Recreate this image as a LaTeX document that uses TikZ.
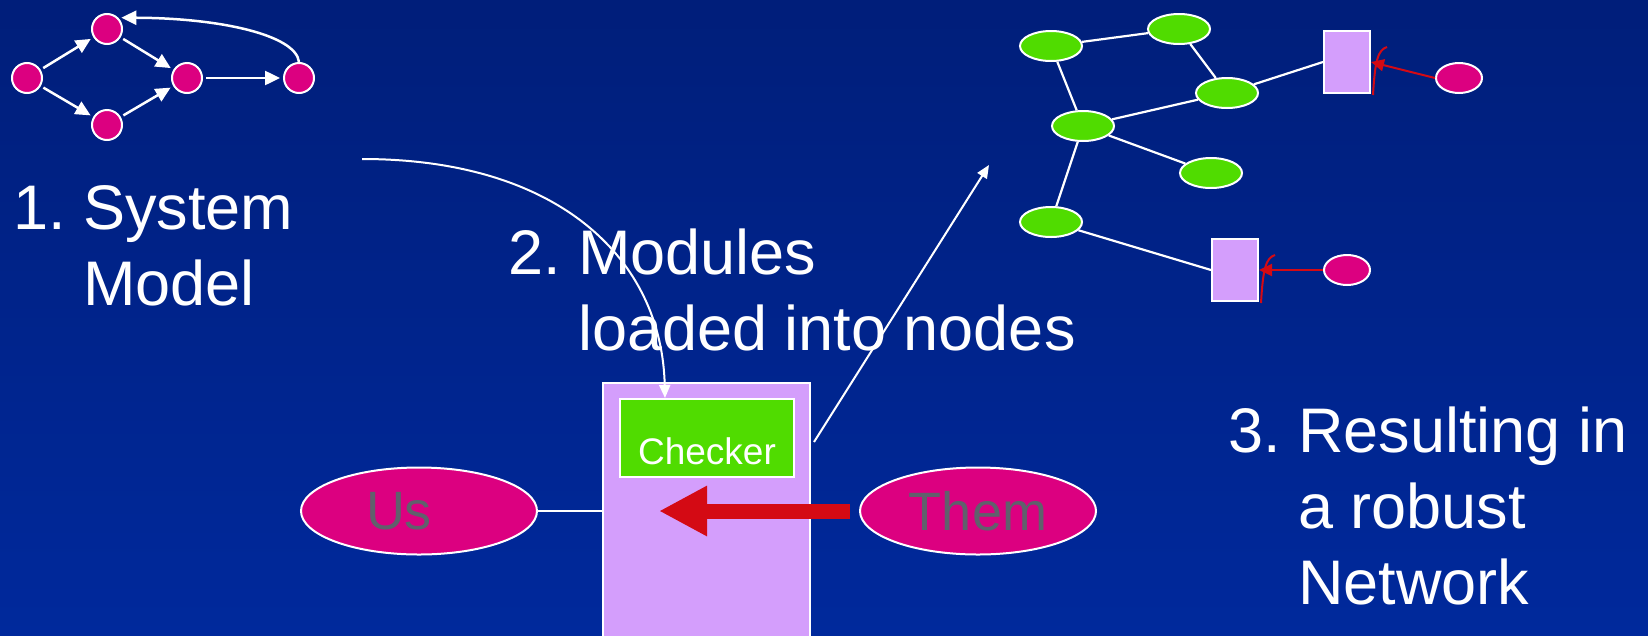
\documentclass[tikz,border=0pt]{standalone}
\usepackage{fontspec}
\setmainfont{Liberation Sans}
\usepackage{xcolor}
\usepackage{tikz}
\usetikzlibrary{shapes.geometric}
\usetikzlibrary{arrows.meta}
\definecolor{bgtop}{RGB}{0,30,122}
\definecolor{bgbot}{RGB}{0,41,156}
\definecolor{magentanode}{RGB}{220,0,128}
\definecolor{greennode}{RGB}{80,220,0}
\definecolor{lavender}{RGB}{212,158,252}
\definecolor{attackred}{RGB}{212,10,20}
\definecolor{labelgray}{RGB}{96,96,108}

\begin{document}
\begin{tikzpicture}[x=1pt,y=-1pt]
% Define styles
\tikzstyle{statenode} = [circle, draw=white, line width=2pt, fill=magentanode, minimum size=30pt, inner sep=0pt]
\tikzstyle{netnode} = [ellipse, draw=white, line width=2pt, fill=greennode, minimum width=62pt, minimum height=30pt, inner sep=0pt]
\tikzstyle{hostnode} = [rectangle, draw=white, line width=2pt, fill=lavender, minimum width=46pt, minimum height=62pt, inner sep=0pt]
\tikzstyle{intruder} = [ellipse, draw=white, line width=2pt, fill=magentanode, minimum width=46pt, minimum height=30pt, inner sep=0pt]
\tikzstyle{party} = [ellipse, draw=white, line width=2pt, fill=magentanode, minimum width=236pt, minimum height=87pt, inner sep=0pt, text=labelgray, font=\fontsize{54}{60}\selectfont]
\tikzstyle{bigtext} = [text=white, align=left, anchor=base west, inner sep=0pt, font=\fontsize{63}{76}\selectfont\frenchspacing]
\tikzstyle{flow} = [white, line width=2.5pt, shorten <=3pt, shorten >=3pt, -{Triangle[length=15pt,width=14pt]}]
\tikzstyle{load} = [white, line width=2pt, -{Triangle[length=13pt,width=11pt]}]
\tikzstyle{link} = [white, line width=2.2pt]
\tikzstyle{attack} = [attackred, line width=2pt, -{Triangle[length=13pt,width=12pt]}]
% Background
\fill[top color=bgtop, bottom color=bgbot] (0,0) rectangle (1648,635);
\useasboundingbox (0,0) rectangle (1648,635);
% Define nodes
\node[statenode] (s1) at (27,78) {};
\node[statenode] (s2) at (107,29) {};
\node[statenode] (s3) at (107,125) {};
\node[statenode] (s4) at (187,78) {};
\node[statenode] (s5) at (299,78) {};
\node[netnode] (g1) at (1051,46) {};
\node[netnode] (g2) at (1179,29) {};
\node[netnode] (g3) at (1227,93) {};
\node[netnode] (g4) at (1083,126) {};
\node[netnode] (g5) at (1211,173) {};
\node[netnode] (g6) at (1051,222) {};
\node[hostnode] (box1) at (1347,62) {};
\node[hostnode] (box2) at (1235,270) {};
\node[intruder] (m1) at (1459,78) {};
\node[intruder] (m2) at (1347,270) {};
\node[rectangle, draw=white, line width=2pt, fill=lavender, minimum width=207pt, minimum height=262pt] (modbox) at (706.5,514) {};
\node[rectangle, draw=white, line width=2pt, fill=greennode, minimum width=174pt, minimum height=78pt, inner sep=0pt, text=white, text height=52pt, text depth=0pt, font=\fontsize{37}{40}\selectfont] (checker) at (707,438) {Checker};
\node[party] (us) at (419,511) {Us\hspace*{40pt}};
\node[party] (them) at (978,511) {Them};
\node[bigtext] (sysmodel) at (13,305) {1. System\\\hphantom{1. }Model};
\node[bigtext] (modules) at (508,350) {2. Modules\\\hphantom{2. }loaded into nodes};
\node[bigtext] (result) at (1228,604) {3. Resulting in\\\hphantom{3. }a robust\\\hphantom{3. }Network};
\coordinate (sysout) at (362,159);
\coordinate (netin) at (989,165);
\coordinate (hit) at (659,511);
% Connect the nodes
\draw[flow] (s1) -- (s2);
\draw[flow] (s1) -- (s3);
\draw[flow] (s2) -- (s4);
\draw[flow] (s3) -- (s4);
\draw[flow] (s4) -- (s5);
\draw[flow, shorten <=0pt] (s5.north) .. controls (296,35) and (220,18) .. (s2.45);
\draw[link] (g1) -- (g2);
\draw[link] (g1) -- (g4);
\draw[link] (g2) -- (g3);
\draw[link] (g4) -- (g3);
\draw[link] (g4) -- (g5);
\draw[link] (g4) -- (g6);
\draw[link] (g3) -- (box1.west);
\draw[link] (g6) -- (box2.west);
\draw[attack] (m1.west) -- (box1.east);
\draw[attack] (m2.west) -- (box2.east);
\draw[attackred, line width=2pt] (1373,95) .. controls (1375,60) and (1378,50) .. (1387,47);
\draw[attackred, line width=2pt] (1261,303) .. controls (1263,268) and (1266,258) .. (1275,255);
\draw[link] (us.east) -- (us.east -| modbox.west);
\draw[attackred, line width=15pt, shorten <=9pt, -{Triangle[length=48pt,width=47pt]}] (them.west) -- (hit);
\draw[load] (sysout) .. controls (560,159) and (662,260) .. ([xshift=-42pt]checker.north);
\draw[load] ([xshift=3pt,yshift=-60pt]modbox.north east) -- (netin);

\end{tikzpicture}
\end{document}
